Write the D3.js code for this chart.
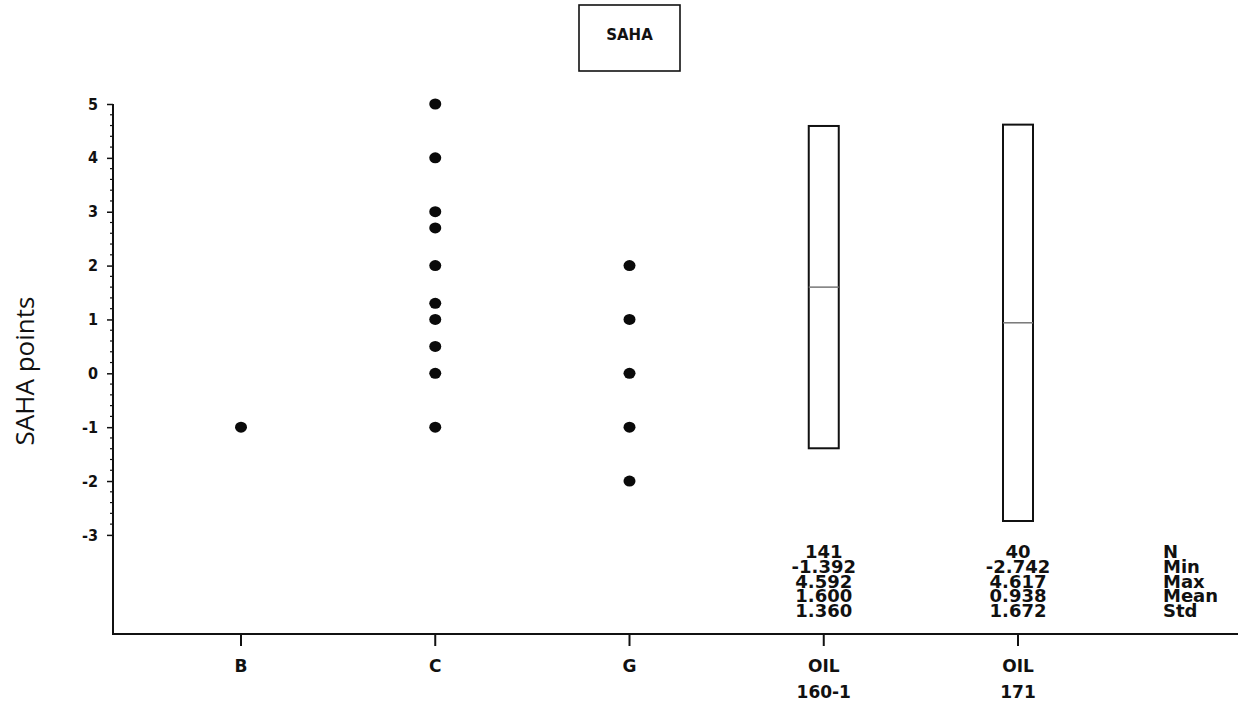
<!DOCTYPE html>
<html>
<head>
<meta charset="utf-8">
<script src="https://cdn.jsdelivr.net/npm/d3@7"></script>
<style>
  html, body { margin: 0; padding: 0; background: #fff; }
  svg { display: block; }
</style>
</head>
<body>
<svg id="chart" width="1243" height="708"></svg>
<script>
// ---- data ----
const categories = ["B", "C", "G", "OIL 160-1", "OIL 171"];
const xLabelTop = ["B", "C", "G", "OIL", "OIL"];
const xLabelBottom = ["", "", "", "160-1", "171"];
const dotsB = [-1];
const dotsC = [5, 4, 3, 2.7, 2, 1.3, 1, 0.5, 0, -1];
const dotsG = [2, 1, 0, -1, -2];
const boxCategories = ["OIL 160-1", "OIL 171"];
const boxN = [141, 40];
const boxMin = [-1.392, -2.742];
const boxMax = [4.592, 4.617];
const boxMean = [1.600, 0.938];
const boxStd = [1.360, 1.672];
const statLabels = ["N", "Min", "Max", "Mean", "Std"];
const yTickValues = [-3, -2, -1, 0, 1, 2, 3, 4, 5];
const yDomain = [-4.84, 5];
const chartTitle = "SAHA";
const yTitle = "SAHA points";

// ---- layout ----
const svg = d3.select("#chart");
const plotLeft = 113, plotRight = 1238, plotTop = 104, plotBottom = 634;
const bold = "'DejaVu Sans', sans-serif";

const y = d3.scaleLinear().domain(yDomain).range([plotBottom, plotTop]);
const x = d3.scalePoint().domain(categories).range([241, 1018]);

// title box
const tg = svg.append("g");
tg.append("rect").attr("x", 579).attr("y", 5).attr("width", 101).attr("height", 66)
  .attr("fill", "none").attr("stroke", "#111").attr("stroke-width", 1.6);
tg.append("text").attr("x", 629.5).attr("y", 40).attr("text-anchor", "middle")
  .attr("font-family", bold).attr("font-weight", "bold").attr("font-size", 15)
  .attr("fill", "#111").text(chartTitle);

// y axis
const yAxisG = svg.append("g").attr("transform", `translate(${plotLeft},0)`);
yAxisG.call(d3.axisLeft(y).tickValues(yTickValues).tickSize(6).tickPadding(9)
  .tickFormat(d => d < 0 ? "-" + Math.abs(d) : String(d)));
yAxisG.select(".domain").remove();
yAxisG.selectAll(".tick line").attr("stroke", "#111").attr("stroke-width", 1.5);
yAxisG.selectAll(".tick text")
  .attr("font-family", "'DejaVu Sans Condensed', 'DejaVu Sans', sans-serif")
  .attr("font-stretch", "condensed")
  .attr("font-weight", "bold").attr("font-size", 16).attr("fill", "#111");
// minor ticks every 0.2
const minor = d3.range(-3, 5.0001, 0.2).map(v => +v.toFixed(1)).filter(v => Math.abs(v - Math.round(v)) > 1e-6);
yAxisG.selectAll(".minor").data(minor).join("line").attr("class", "minor")
  .attr("x1", -3).attr("x2", 0).attr("y1", d => y(d)).attr("y2", d => y(d))
  .attr("stroke", "#111").attr("stroke-width", 1.2);
svg.append("line").attr("x1", plotLeft).attr("x2", plotLeft)
  .attr("y1", y(5)).attr("y2", plotBottom + 1)
  .attr("stroke", "#111").attr("stroke-width", 2);

// y title
svg.append("text").attr("transform", `translate(34,371) rotate(-90)`)
  .attr("text-anchor", "middle").attr("font-family", "'Open Sans', sans-serif")
  .attr("font-size", 26).attr("fill", "#111").text(yTitle);

// x axis
svg.append("line").attr("x1", plotLeft).attr("x2", plotRight)
  .attr("y1", plotBottom).attr("y2", plotBottom)
  .attr("stroke", "#111").attr("stroke-width", 2);
const xg = svg.append("g");
xg.selectAll("line.xt").data(categories).join("line").attr("class", "xt")
  .attr("x1", d => x(d)).attr("x2", d => x(d))
  .attr("y1", plotBottom).attr("y2", plotBottom + 12)
  .attr("stroke", "#111").attr("stroke-width", 2);
xg.selectAll("text.xl1").data(categories).join("text").attr("class", "xl1")
  .attr("x", d => x(d)).attr("y", 672).attr("text-anchor", "middle")
  .attr("font-family", bold).attr("font-weight", "bold").attr("font-size", 17)
  .attr("fill", "#111").text((d, i) => xLabelTop[i]);
xg.selectAll("text.xl2").data(categories).join("text").attr("class", "xl2")
  .attr("x", d => x(d)).attr("y", 698).attr("text-anchor", "middle")
  .attr("font-family", bold).attr("font-weight", "bold").attr("font-size", 17)
  .attr("fill", "#111").text((d, i) => xLabelBottom[i]);

// dots
const dotData = [
  ...dotsB.map(v => ({ c: "B", v })),
  ...dotsC.map(v => ({ c: "C", v })),
  ...dotsG.map(v => ({ c: "G", v }))
];
svg.append("g").selectAll("ellipse").data(dotData).join("ellipse")
  .attr("cx", d => x(d.c)).attr("cy", d => y(d.v))
  .attr("rx", 6).attr("ry", 5.5).attr("fill", "#0a0a0a");

// boxes
const boxW = 30;
const bg = svg.append("g");
boxCategories.forEach((c, i) => {
  const cx = x(c);
  bg.append("rect").attr("x", cx - boxW / 2).attr("y", y(boxMax[i]))
    .attr("width", boxW).attr("height", y(boxMin[i]) - y(boxMax[i]))
    .attr("fill", "none").attr("stroke", "#111").attr("stroke-width", 2);
  bg.append("line").attr("x1", cx - boxW / 2).attr("x2", cx + boxW / 2)
    .attr("y1", y(boxMean[i])).attr("y2", y(boxMean[i]))
    .attr("stroke", "#777").attr("stroke-width", 1.5);
});

// stats
const statBase = 558, statStep = 14.8;
boxCategories.forEach((c, i) => {
  const vals = [String(boxN[i]), boxMin[i].toFixed(3), boxMax[i].toFixed(3),
                boxMean[i].toFixed(3), boxStd[i].toFixed(3)];
  svg.append("g").selectAll("text").data(vals).join("text")
    .attr("x", x(c)).attr("y", (d, k) => statBase + k * statStep)
    .attr("text-anchor", "middle").attr("font-family", bold)
    .attr("font-weight", "bold").attr("font-size", 18).attr("fill", "#111")
    .text(d => d);
});
svg.append("g").selectAll("text").data(statLabels).join("text")
  .attr("x", x(categories[categories.length - 1]) + 145)
  .attr("y", (d, k) => statBase + k * statStep)
  .attr("font-family", bold).attr("font-weight", "bold").attr("font-size", 18)
  .attr("fill", "#111").text(d => d);
</script>
</body>
</html>
